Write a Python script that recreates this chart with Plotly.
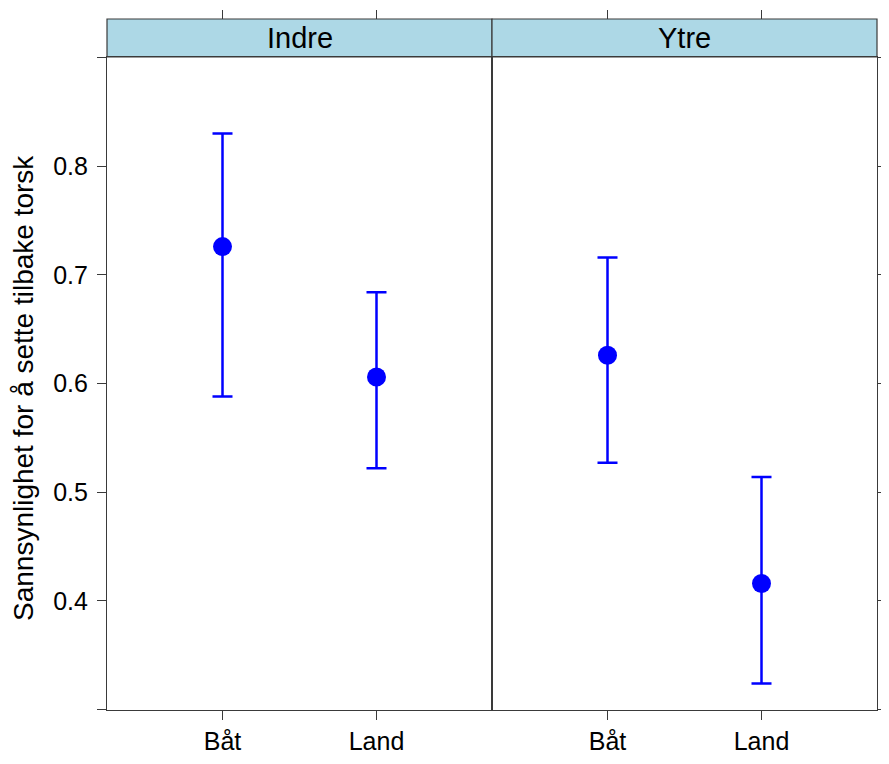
import plotly.graph_objects as go

# data
panels = ["Indre", "Ytre"]
groups = ["Båt", "Land"]
est = {"Indre": [0.726, 0.606], "Ytre": [0.626, 0.416]}
lower = {"Indre": [0.588, 0.522], "Ytre": [0.527, 0.324]}
upper = {"Indre": [0.830, 0.684], "Ytre": [0.716, 0.514]}
yticks = [0.3, 0.4, 0.5, 0.6, 0.7, 0.8, 0.9]
yticklabels = ["", "0.4", "0.5", "0.6", "0.7", "0.8", ""]
ytitle = "Sannsynlighet for å sette tilbake torsk"

# page body has an 8px margin all round, keep the figure inside the window
W, H = 873, 748
ML, MR, MT, MB = 99, 4, 2, 46
plot_w = W - ML - MR
plot_h = H - MT - MB
strip_top = 1 - 9 / plot_h
strip_bot = 1 - 47 / plot_h
split = 0.5

BLUE = "#0000FF"
LINE = "#3a3a3a"
FONT = "Liberation Sans, Arial, sans-serif"
xr = [-0.75, 1.75]
yr = [0.2995, 0.9005]

fig = go.Figure()

for i, p in enumerate(panels):
    xa = "x" if i == 0 else "x2"
    ya = "y" if i == 0 else "y2"
    fig.add_trace(go.Scatter(
        x=list(range(len(groups))), y=est[p],
        mode="markers",
        marker=dict(color=BLUE, size=19),
        error_y=dict(
            type="data",
            array=[u - e for u, e in zip(upper[p], est[p])],
            arrayminus=[e - l for e, l in zip(est[p], lower[p])],
            color=BLUE, thickness=2.5, width=10,
        ),
        xaxis=xa, yaxis=ya, showlegend=False, hoverinfo="skip",
    ))
    # invisible trace so the top tick axis gets drawn
    fig.add_trace(go.Scatter(
        x=list(range(len(groups))), y=est[p], mode="markers",
        marker=dict(opacity=0), xaxis="x3" if i == 0 else "x4", yaxis=ya,
        showlegend=False, hoverinfo="skip",
    ))

    x0 = 0 if i == 0 else split
    x1 = split if i == 0 else 1
    fig.add_shape(type="rect", xref="paper", yref="paper",
                  x0=x0, x1=x1, y0=strip_bot, y1=strip_top,
                  fillcolor="#ADD8E6", line=dict(color=LINE, width=1.2), layer="below")
    fig.add_annotation(text=p, xref="paper", yref="paper",
                       x=(x0 + x1) / 2, y=(strip_bot + strip_top) / 2,
                       xanchor="center", yanchor="middle",
                       showarrow=False, font=dict(size=29, color="black", family=FONT))

fig.add_annotation(text=ytitle, xref="paper", yref="paper",
                   x=(15 - ML) / plot_w, y=1 - (380 - MT) / plot_h,
                   xanchor="center", yanchor="middle", textangle=-90,
                   showarrow=False, font=dict(size=28, color="black", family=FONT))

xcommon = dict(range=xr, tickvals=list(range(len(groups))), ticks="outside",
               ticklen=9, tickwidth=1.2, tickcolor=LINE, showgrid=False,
               zeroline=False, showline=True, linecolor=LINE, linewidth=1.2,
               mirror=True, tickfont=dict(size=25, color="black", family=FONT))
topcommon = dict(range=xr, tickvals=list(range(len(groups))), ticks="outside",
                 ticklen=9, tickwidth=1.2, tickcolor=LINE, showgrid=False,
                 zeroline=False, showline=False, showticklabels=False,
                 side="top", anchor="free", position=strip_top)
ycommon = dict(range=yr, tickvals=yticks, ticktext=yticklabels, ticks="outside",
               ticklen=9, tickwidth=1.2, tickcolor=LINE, showgrid=False,
               zeroline=False, showline=True, linecolor=LINE, linewidth=1.2,
               mirror=True, tickfont=dict(size=25, color="black", family=FONT))

fig.update_layout(
    width=W, height=H,
    margin=dict(l=ML, r=MR, t=MT, b=MB),
    plot_bgcolor="white", paper_bgcolor="white",
    template="none",
    xaxis=dict(domain=[0, split], anchor="y", ticktext=groups, **xcommon),
    xaxis2=dict(domain=[split, 1], anchor="y2", ticktext=groups, **xcommon),
    xaxis3=dict(domain=[0, split], overlaying="x", **topcommon),
    xaxis4=dict(domain=[split, 1], overlaying="x2", **topcommon),
    yaxis=dict(domain=[0, strip_bot], anchor="x", ticklabelstandoff=4, **ycommon),
    yaxis2=dict(domain=[0, strip_bot], anchor="x2", side="right",
                showticklabels=False, **ycommon),
)

fig.write_html("out.html")
